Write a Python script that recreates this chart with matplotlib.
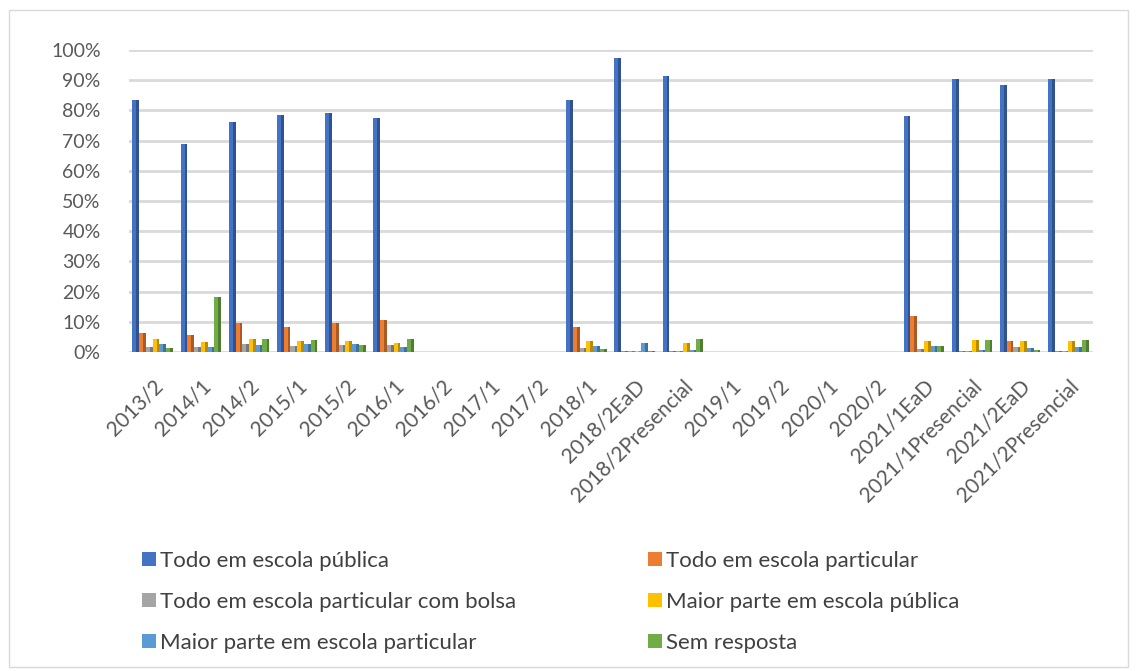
import numpy as np
import matplotlib.pyplot as plt
from matplotlib.patches import Rectangle, Patch
from matplotlib.ticker import PercentFormatter
import matplotlib.colors as mcolors

plt.rcParams['font.family'] = ['Lato', 'DejaVu Sans']

semesters = ['2013/2', '2014/1', '2014/2', '2015/1', '2015/2', '2016/1', '2016/2',
             '2017/1', '2017/2', '2018/1', '2018/2EaD', '2018/2Presencial',
             '2019/1', '2019/2', '2020/1', '2020/2', '2021/1EaD',
             '2021/1Presencial', '2021/2EaD', '2021/2Presencial']

nan = np.nan
todo_publica = [83.5, 69.0, 76.0, 78.5, 79.0, 77.5, nan, nan, nan, 83.5, 97.5, 91.5,
                nan, nan, nan, nan, 78.0, 90.5, 88.5, 90.5]
todo_particular = [6.3, 5.6, 9.6, 8.2, 9.6, 10.7, nan, nan, nan, 8.3, 0.2, 0.2,
                   nan, nan, nan, nan, 12.0, 0.2, 3.6, 0.2]
particular_bolsa = [1.6, 1.6, 2.6, 2.0, 2.4, 2.3, nan, nan, nan, 1.2, 0.2, 0.3,
                    nan, nan, nan, nan, 1.0, 0.4, 1.6, 0.3]
maior_publica = [4.4, 3.2, 4.4, 3.7, 3.6, 3.0, nan, nan, nan, 3.7, 0.2, 3.1,
                 nan, nan, nan, nan, 3.7, 4.0, 3.8, 3.5]
maior_particular = [2.8, 1.6, 2.3, 2.6, 2.6, 1.7, nan, nan, nan, 1.9, 2.9, 0.6,
                    nan, nan, nan, nan, 2.1, 0.8, 1.3, 1.7]
sem_resposta = [1.2, 18.2, 4.2, 4.0, 2.3, 4.2, nan, nan, nan, 1.1, 0.2, 4.3,
                nan, nan, nan, nan, 2.1, 4.0, 0.8, 3.9]

series = [
    ('Todo em escola pública', todo_publica, '#4472C4'),
    ('Todo em escola particular', todo_particular, '#ED7D31'),
    ('Todo em escola particular com bolsa', particular_bolsa, '#A5A5A5'),
    ('Maior parte em escola pública', maior_publica, '#FFC000'),
    ('Maior parte em escola particular', maior_particular, '#5B9BD5'),
    ('Sem resposta', sem_resposta, '#70AD47'),
]

fig = plt.figure(figsize=(11.37, 6.71), dpi=100)
fig.patches.append(Rectangle((9 / 1137, 4 / 671), 1119 / 1137, 657 / 671,
                             transform=fig.transFigure, fill=False,
                             edgecolor='#d9d9d9', linewidth=1))

ax = fig.add_axes([128.5 / 1137, (671 - 352) / 671, 964 / 1137, 302 / 671])

x = np.arange(len(semesters))
w = 0.14
for k, (label, vals, color) in enumerate(series):
    v = np.array(vals) / 100
    pos = x - 0.42 + w / 2 + k * w
    ax.bar(pos, v, width=w, color=color, zorder=3)
    # darker right face to imitate the 3D look
    dark = tuple(c * 0.72 for c in mcolors.to_rgb(color))
    ax.bar(pos + w * 0.3, v, width=w * 0.4, color=dark, zorder=3)

ax.set_xlim(-0.5, len(semesters) - 0.5)
ax.set_ylim(0, 1.0)
ax.set_yticks(np.arange(0, 1.01, 0.1))
ax.yaxis.set_major_formatter(PercentFormatter(1.0, decimals=0))
ax.grid(axis='y', color='#d9d9d9', linewidth=2, zorder=0)
ax.set_axisbelow(True)
for s in ax.spines.values():
    s.set_visible(False)
ax.tick_params(axis='both', length=0, labelcolor='#595959')
ax.tick_params(axis='y', pad=20, labelsize=14)
ax.set_xticks(x)
ax.set_xticklabels(semesters, rotation=45, ha='right', va='top',
                   rotation_mode='anchor')
ax.tick_params(axis='x', pad=17, labelsize=15)

handles = [Patch(facecolor=c, label=l) for l, _, c in series]
leg_kw = dict(loc='upper left', frameon=False, fontsize=16, labelcolor='#404040',
              handlelength=0.62, handleheight=0.62, handletextpad=0.2,
              labelspacing=0.94, borderpad=0, borderaxespad=0)
fig.legend(handles=handles[0::2], bbox_to_anchor=(142 / 1137, 1 - 551 / 671), **leg_kw)
fig.legend(handles=handles[1::2], bbox_to_anchor=(648 / 1137, 1 - 551 / 671), **leg_kw)

fig.savefig('out.png', dpi=100)
